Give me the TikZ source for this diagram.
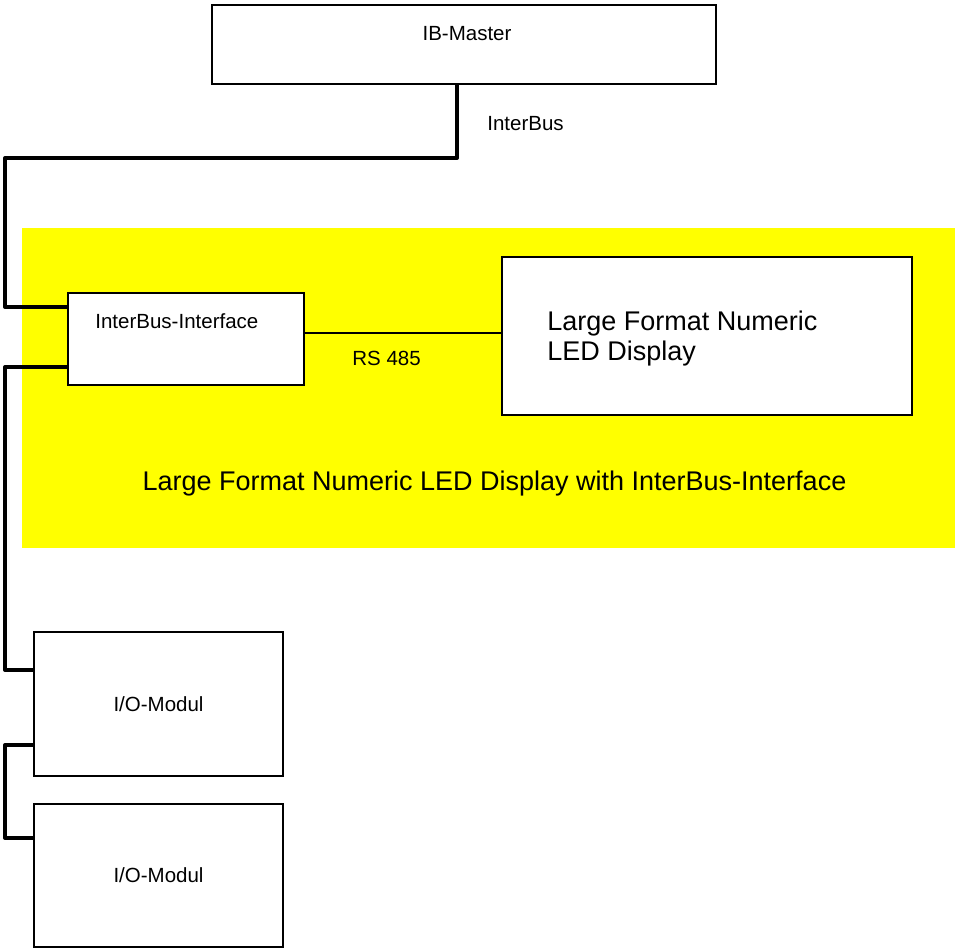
\documentclass[tikz,border=0pt]{standalone}
\usepackage{fontspec}
\setmainfont{Liberation Sans}
\usetikzlibrary{positioning}
\definecolor{framefill}{RGB}{255,255,0}

\begin{document}
\begin{tikzpicture}[x=0.5pt,y=-0.5pt,
  box/.style={draw,line width=0.75pt,fill=white,inner sep=0pt},
  bus/.style={line width=2pt,line join=round},
  small/.style={font=\fontsize{10.25}{12}\selectfont,inner sep=0pt},
  big/.style={font=\fontsize{13.5}{15}\selectfont,inner sep=0pt}]
\useasboundingbox (0,0) rectangle (955,950);
% module frame
\fill[framefill] (22,228) rectangle (955,548);
% boxes
\node (master) at (464,44.5) [box,minimum width=252pt,minimum height=39.5pt]{};
\node (iface) at (186,339) [box,minimum width=118pt,minimum height=46pt]{};
\node (disp) at (707,336) [box,minimum width=205pt,minimum height=79pt]{};
\node (io1) at (158.5,704) [box,minimum width=124.5pt,minimum height=72pt]{};
\node (io2) at (158.5,875.5) [box,minimum width=124.5pt,minimum height=71.5pt]{};
% texts
\node (masterlbl) at (467,40) [small,anchor=base]{IB-Master};
\node (ifacelbl) at (95,328) [small,anchor=base west]{InterBus-Interface};
\node (displblA) at (547,330) [big,anchor=base west]{Large Format Numeric};
\node (displblB) at (547,360) [big,anchor=base west]{LED Display};
\node (io1lbl) at (io1) [small]{I/O-Modul};
\node (io2lbl) at (io2) [small]{I/O-Modul};
\node (buslbl) at (487,130) [small,anchor=base west]{InterBus};
\node (rslbl) at (352,365) [small,anchor=base west]{RS 485};
\node (framelbl) at (494.5,490) [big,anchor=base]{Large Format Numeric LED Display with InterBus-Interface};
% bus
\coordinate (rail) at (5,158);
\draw[bus] ([xshift=-3.5pt]master.south) |- (rail) |- ([yshift=16pt]iface.west);
\coordinate (ifaceout) at ([yshift=-14pt]iface.west);
\coordinate (io1in) at ([yshift=17pt]io1.west);
\draw[bus] (ifaceout) -- (ifaceout -| rail) -- (io1in -| rail) -- (io1in);
\coordinate (io1out) at ([yshift=-20.5pt]io1.west);
\coordinate (io2in) at ([yshift=18.75pt]io2.west);
\draw[bus] (io1out) -- (io1out -| rail) -- (io2in -| rail) -- (io2in);
% RS 485
\draw[line width=0.75pt] ([yshift=3pt]iface.east) -- ([yshift=3pt]iface.east -| disp.west);
\end{tikzpicture}
\end{document}
